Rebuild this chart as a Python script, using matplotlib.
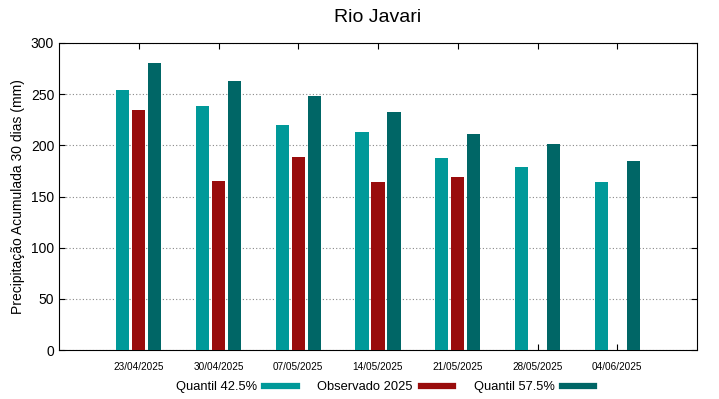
import numpy as np
import matplotlib.pyplot as plt
from matplotlib.lines import Line2D

plt.rcParams['font.family'] = ['Liberation Sans', 'DejaVu Sans']

# data
datas = ['23/04/2025', '30/04/2025', '07/05/2025', '14/05/2025',
         '21/05/2025', '28/05/2025', '04/06/2025']
quantil_425 = [254, 238, 220, 213, 188, 179, 164]
observado = [235, 165, 189, 164, 169, np.nan, np.nan]
quantil_575 = [280, 263, 248, 233, 211, 201, 185]

cor_q1 = '#009999'
cor_obs = '#990c0c'
cor_q2 = '#006666'

fig = plt.figure(figsize=(7.19, 3.99), dpi=100)
ax = fig.add_axes([59 / 719, 1 - 350 / 399, 638 / 719, 307 / 399])

x = np.arange(len(datas))
w = 0.165
ax.bar(x - 0.2, quantil_425, w, color=cor_q1, zorder=3)
ax.bar(x, observado, w, color=cor_obs, zorder=3)
ax.bar(x + 0.2, quantil_575, w, color=cor_q2, zorder=3)

ax.set_xlim(-1, 7)
ax.set_ylim(0, 300)
ax.set_yticks(range(0, 301, 50))
ax.set_xticks(x)
ax.set_xticklabels(datas, fontsize=7.2)
ax.tick_params(axis='y', labelsize=10, direction='in', right=True, length=4)
ax.tick_params(axis='x', direction='in', top=True, length=4, pad=9)
ax.yaxis.grid(True, linestyle=(0, (1, 2)), color='#888888', linewidth=0.8, zorder=0)
for s in ax.spines.values():
    s.set_linewidth(0.8)

ax.set_ylabel('Precipitação Acumulada 30 dias (mm)', fontsize=10)
ax.set_title('Rio Javari', fontsize=14, pad=15)

handles = [Line2D([], [], color=c, linewidth=4.5) for c in (cor_q1, cor_obs, cor_q2)]
fig.legend(handles, ['Quantil 42.5%', 'Observado 2025', 'Quantil 57.5%'],
           loc='center', bbox_to_anchor=(385 / 719, 1 - 387 / 399), ncol=3,
           frameon=False, markerfirst=False, fontsize=9.3, handlelength=2.5,
           columnspacing=1.6, handletextpad=0.6)

fig.savefig('out.png', dpi=100)
